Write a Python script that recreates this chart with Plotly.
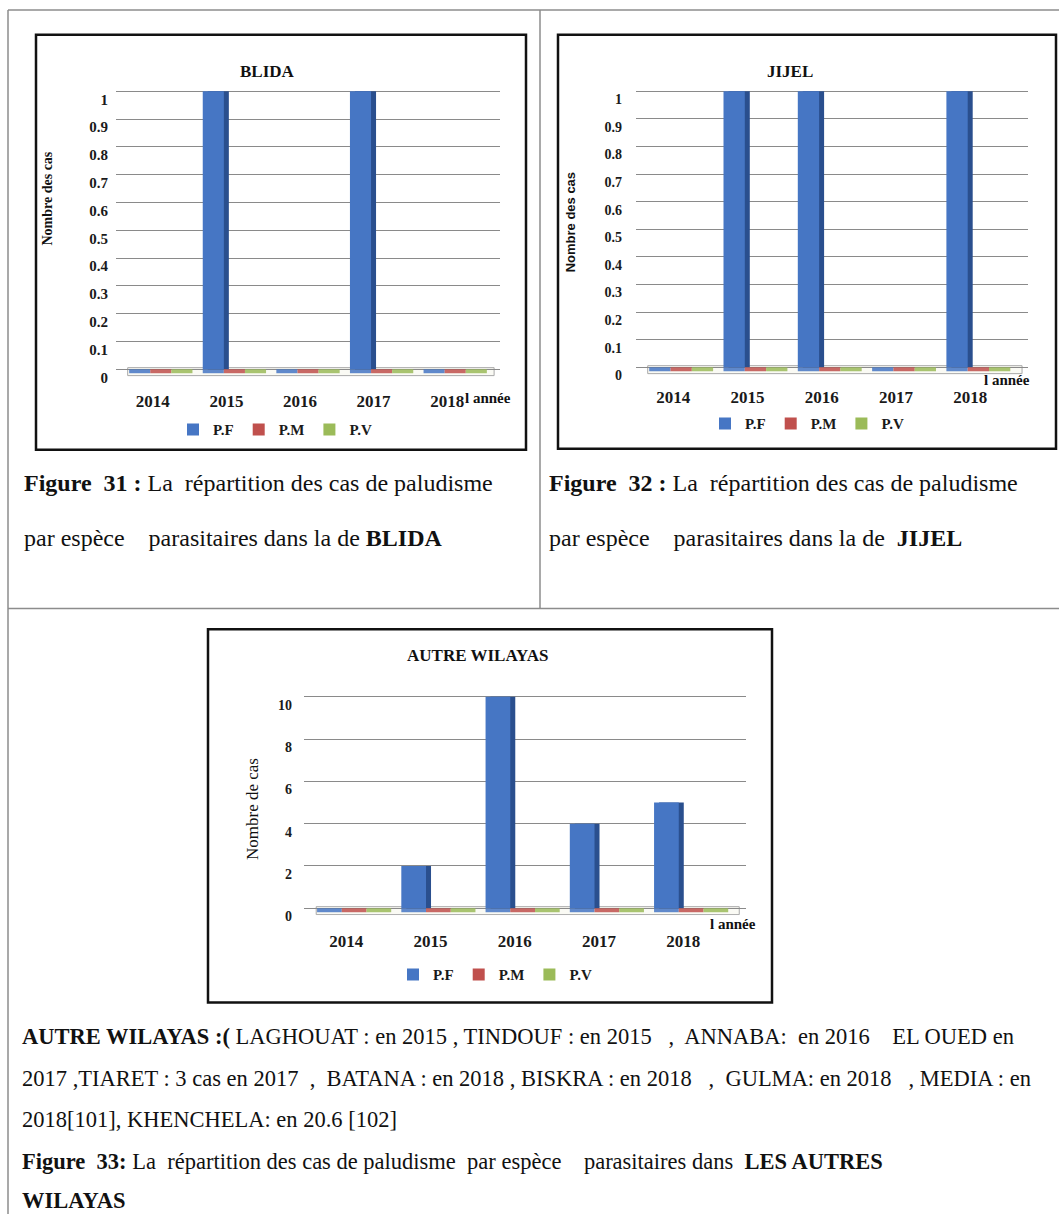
import plotly.graph_objects as go

W, H = 1059, 1223

# ---------------- data ----------------
years = ["2014", "2015", "2016", "2017", "2018"]
species = ["P.F", "P.M", "P.V"]

blida_pf = [0, 1, 0, 1, 0]
blida_pm = [0, 0, 0, 0, 0]
blida_pv = [0, 0, 0, 0, 0]

jijel_pf = [0, 1, 1, 0, 1]
jijel_pm = [0, 0, 0, 0, 0]
jijel_pv = [0, 0, 0, 0, 0]

autres_pf = [0, 2, 10, 4, 5]
autres_pm = [0, 0, 0, 0, 0]
autres_pv = [0, 0, 0, 0, 0]

# ---------------- styling ----------------
SERIF = "Liberation Serif, 'Times New Roman', Times, serif"
SANS = "Liberation Sans, Arial, sans-serif"
FACE = {"P.F": "#4676C4", "P.M": "#C0504D", "P.V": "#9BBB59"}
SIDE = {"P.F": "#2A4F8E", "P.M": "#8E3431", "P.V": "#71893F"}
GRID = "#8A8A8A"
SLAB_PX = 4      # thickness of the floor strips, in pixels
DEPTH_PX = 5     # width of the shaded side of each bar, in pixels
SHIFT_PX = 8     # bars sit slightly right of their year label (perspective)


def fx(p):
    return p / W


def fy(p):
    return 1 - p / H


panels = [
    dict(title="BLIDA", series=[blida_pf, blida_pm, blida_pv], ax="", legend="legend",
         xdom=(116, 500), ydom=(80, 380), zero_px=372, unit_px=280, dtick=0.1,
         cat_px=73.6, group=0.86, tickfont=15, xfont=17, ystand=7, xstand=12,
         legpos=(275, 433)),
    dict(title="JIJEL", series=[jijel_pf, jijel_pm, jijel_pv], ax="2", legend="legend2",
         xdom=(636, 1028), ydom=(80, 378), zero_px=370, unit_px=278, dtick=0.1,
         cat_px=74.3, group=0.86, tickfont=14, xfont=17, ystand=13, xstand=10,
         legpos=(807, 427)),
    dict(title="AUTRE WILAYAS", series=[autres_pf, autres_pm, autres_pv], ax="3", legend="legend3",
         xdom=(304, 746), ydom=(690, 922), zero_px=915, unit_px=21.3, dtick=2,
         cat_px=84.25, group=0.88, tickfont=14, xfont=17, ystand=11, xstand=14,
         legpos=(495, 982)),
]

fig = go.Figure()
shapes = []

for p in panels:
    xa = "x" + p["ax"]
    ya = "y" + p["ax"]
    ncat = len(years)
    cat_px = p["cat_px"]
    x_right = -0.5 + (p["xdom"][1] - p["xdom"][0]) / cat_px
    y_min = -(p["ydom"][1] - p["zero_px"]) / p["unit_px"]
    y_max = (p["zero_px"] - p["ydom"][0]) / p["unit_px"]
    slab = SLAB_PX / p["unit_px"]
    bw = p["group"] / len(species)
    depth = DEPTH_PX / cat_px
    shift = SHIFT_PX / cat_px

    # floor of the plot
    shapes.append(dict(type="rect", xref=xa, yref=ya, x0=-0.45 + shift, x1=x_right - 0.08,
                       y0=-slab * 1.6, y1=slab * 0.4, line=dict(color="#A8A8A8", width=1),
                       fillcolor="#FAFAF4", layer="below"))

    for i, (sp, vals) in enumerate(zip(species, p["series"])):
        off = -p["group"] / 2 + i * bw + shift
        # thin coloured strip lying on the floor for every year
        fig.add_trace(go.Bar(x=years, y=[-slab] * ncat, base=0, offset=off, width=bw,
                             marker=dict(color=FACE[sp], line=dict(width=0)), opacity=0.85,
                             xaxis=xa, yaxis=ya, showlegend=False, hoverinfo="skip"))
        # shaded side of the bar
        fig.add_trace(go.Bar(x=years, y=vals, offset=off + depth, width=bw,
                             marker=dict(color=SIDE[sp], line=dict(width=0)),
                             xaxis=xa, yaxis=ya, showlegend=False, hoverinfo="skip"))
        # front face of the bar
        fig.add_trace(go.Bar(x=years, y=vals, name=sp, offset=off, width=bw,
                             marker=dict(color=FACE[sp], line=dict(width=0)),
                             xaxis=xa, yaxis=ya, legend=p["legend"], showlegend=True))

    fig.update_layout({
        "xaxis" + p["ax"]: dict(
            domain=[fx(p["xdom"][0]), fx(p["xdom"][1])], anchor=ya,
            type="category", range=[-0.5, x_right], showgrid=False, zeroline=False,
            showline=False, ticks="", ticklabelstandoff=p["xstand"],
            tickfont=dict(family=SERIF, size=p["xfont"], color="#1A1A1A", weight="bold"),
            fixedrange=True),
        "yaxis" + p["ax"]: dict(
            domain=[fy(p["ydom"][1]), fy(p["ydom"][0])], anchor=xa,
            range=[y_min, y_max], tick0=0, dtick=p["dtick"], showgrid=True,
            gridcolor=GRID, gridwidth=1, zeroline=False, showline=False, ticks="",
            ticklabelshift=8, ticklabelstandoff=p["ystand"],
            tickfont=dict(family=SERIF, size=p["tickfont"], color="#1A1A1A", weight="bold"),
            fixedrange=True),
        p["legend"]: dict(
            orientation="h", x=fx(p["legpos"][0]), y=fy(p["legpos"][1]),
            xanchor="center", yanchor="middle", itemwidth=30, bgcolor="rgba(0,0,0,0)",
            font=dict(family=SERIF, size=15, color="#1A1A1A", weight="bold"),
            itemclick=False, itemdoubleclick=False, tracegroupgap=0),
    })

# ---------------- page frame: table grid and chart borders ----------------
TABLE = "#8C8C8C"
shapes += [
    dict(type="line", xref="paper", yref="paper", x0=fx(8), x1=fx(1059), y0=fy(10), y1=fy(10),
         line=dict(color=TABLE, width=1.5)),
    dict(type="line", xref="paper", yref="paper", x0=fx(8), x1=fx(8), y0=fy(10), y1=fy(1223),
         line=dict(color=TABLE, width=1.5)),
    dict(type="line", xref="paper", yref="paper", x0=fx(540), x1=fx(540), y0=fy(10), y1=fy(613),
         line=dict(color=TABLE, width=1.5)),
    dict(type="line", xref="paper", yref="paper", x0=fx(8), x1=fx(1059), y0=fy(613), y1=fy(613),
         line=dict(color=TABLE, width=1.5)),
]
for (x0, y0, x1, y1) in [(36, 35, 526, 453), (558, 35, 1056, 452), (208, 634, 772, 1010)]:
    shapes.append(dict(type="rect", xref="paper", yref="paper", x0=fx(x0), x1=fx(x1),
                       y0=fy(y1), y1=fy(y0), line=dict(color="#111111", width=2.5),
                       fillcolor="rgba(0,0,0,0)"))

# ---------------- texts ----------------
ann = []


def text(x, y, s, size, family=SERIF, bold=False, angle=0, anchor="center"):
    ann.append(dict(xref="paper", yref="paper", x=fx(x), y=fy(y), text=s, showarrow=False,
                    xanchor=anchor, yanchor="middle", textangle=angle,
                    font=dict(family=family, size=size, color="#111111",
                              weight="bold" if bold else "normal")))


# chart titles
text(267, 72, "BLIDA", 17, bold=True)
text(790, 72, "JIJEL", 17, bold=True)
text(478, 660, "AUTRE WILAYAS", 17, bold=True)

# axis titles
text(48, 200, "Nombre des cas", 14, bold=True, angle=-90)
text(570, 224, "Nombre des cas", 13, family=SANS, bold=True, angle=-90)
text(252, 815, "Nombre de cas", 17, angle=-90)
text(488, 401, "l année", 15, bold=True)
text(1007, 383, "l année", 15, bold=True)
text(733, 931, "l année", 15, bold=True)

# captions
text(22, 487, "<b>Figure  31 :</b> La  répartition des cas de paludisme", 24, anchor="left")
text(22, 542, "par espèce    parasitaires dans la de <b>BLIDA</b>", 24, anchor="left")
text(547, 487, "<b>Figure  32 :</b> La  répartition des cas de paludisme", 24, anchor="left")
text(547, 542, "par espèce    parasitaires dans la de  <b>JIJEL</b>", 24, anchor="left")

BODY = 22.5
text(20, 1044, "<b>AUTRE WILAYAS :(</b> LAGHOUAT : en 2015 , TINDOUF : en 2015   ,  ANNABA:  en 2016    EL OUED en",
     BODY, anchor="left")
text(20, 1086, "2017 ,TIARET : 3 cas en 2017  ,  BATANA : en 2018 , BISKRA : en 2018   ,  GULMA: en 2018   , MEDIA : en",
     BODY, anchor="left")
text(20, 1128, "2018[101], KHENCHELA: en 20.6 [102]", BODY, anchor="left")
text(20, 1170, "<b>Figure  33:</b> La  répartition des cas de paludisme  par espèce    parasitaires dans  <b>LES AUTRES</b>",
     BODY, anchor="left")
text(20, 1209, "<b>WILAYAS</b>", BODY, anchor="left")

fig.update_layout(
    width=W, height=H, margin=dict(l=0, r=0, t=0, b=0),
    paper_bgcolor="white", plot_bgcolor="white",
    barmode="overlay", shapes=shapes, annotations=ann,
    font=dict(family=SERIF, color="#1A1A1A"),
)

fig.write_html("out.html", config={"displayModeBar": False})
